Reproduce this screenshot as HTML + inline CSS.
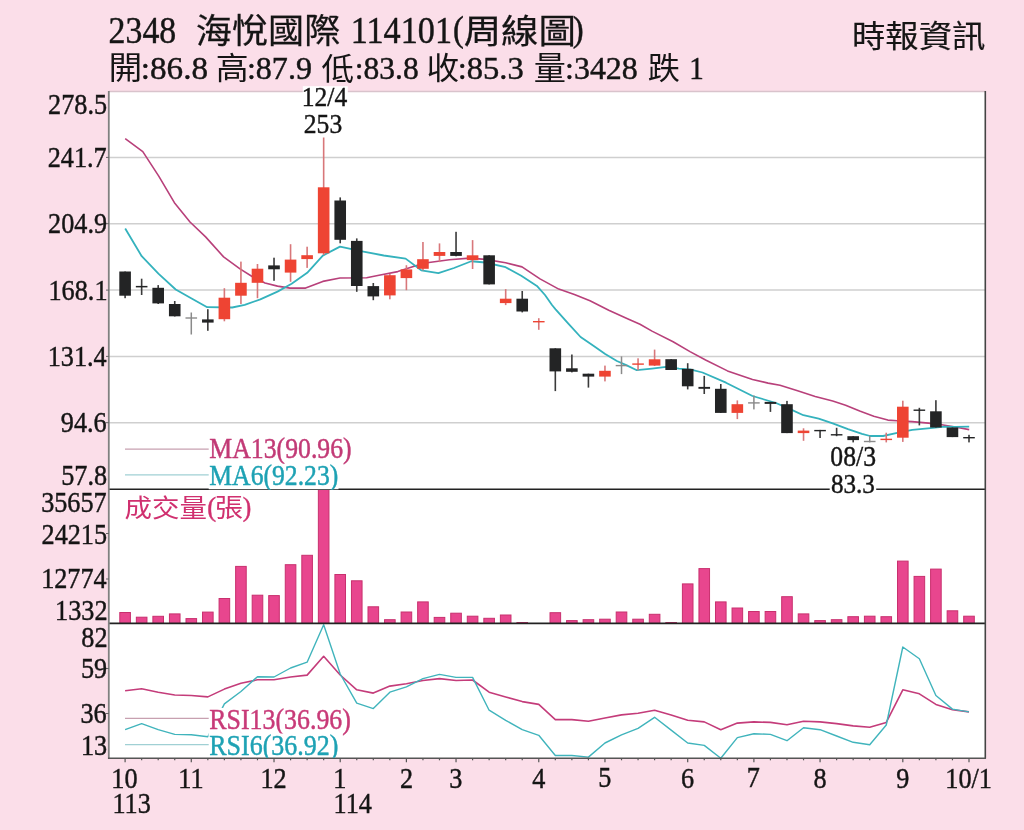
<!DOCTYPE html>
<html><head><meta charset="utf-8"><style>html,body{margin:0;padding:0;background:#fbdee9;}svg{display:block}</style></head>
<body><svg width="1024" height="830" viewBox="0 0 1024 830">
<defs><clipPath id="c1"><rect x="100" y="400" width="300" height="89.8"/></clipPath><clipPath id="c2"><rect x="100" y="650" width="300" height="107.8"/></clipPath></defs>
<rect x="0" y="0" width="1024" height="830" fill="#fbdee9"/>
<rect x="109" y="91" width="876.5" height="667.5" fill="#fff"/>
<line x1="109" y1="157.4" x2="985.5" y2="157.4" stroke="#cfcfcf" stroke-width="1.5"/>
<line x1="109" y1="223.7" x2="985.5" y2="223.7" stroke="#cfcfcf" stroke-width="1.5"/>
<line x1="109" y1="290.1" x2="985.5" y2="290.1" stroke="#cfcfcf" stroke-width="1.5"/>
<line x1="109" y1="356.4" x2="985.5" y2="356.4" stroke="#cfcfcf" stroke-width="1.5"/>
<line x1="109" y1="422.7" x2="985.5" y2="422.7" stroke="#cfcfcf" stroke-width="1.5"/>
<polyline fill="none" stroke="#b8407a" stroke-width="1.6" stroke-linejoin="round" points="125.2,138.6 142.8,151.6 158.75,176.1 174.4,202.7 190,222 205.6,236.9 223.6,256.9 240,268.9 252.5,276.7 265,283 277.5,286.1 290,288.1 305.6,288.1 322.8,281.4 340,278 366.6,277.8 379,275.3 397.8,271.6 413.4,266.4 429,262.5 449.4,259.7 469.7,258.1 485.3,259.4 505.6,262.8 522,266.9 540,278.9 558.75,289.1 574.4,294.5 590,300.8 608.75,310.2 627.5,318.75 640,324.2 652,331.1 673.1,341.7 690,351.6 705.6,360 727.5,370.9 752.5,379.5 768.1,383.1 780,385.3 797.6,390.8 815.2,396.4 832.7,401.1 845.6,405.2 859.7,411.1 873.75,416.3 887.8,420.1 897.2,420.8 912.2,421.6 928.3,423.1 940.2,424.5 955.2,427 969.2,429.6"/>
<polyline fill="none" stroke="#34b2bd" stroke-width="1.8" stroke-linejoin="round" points="125.2,228.5 141.7,256.2 158.4,273.6 175.7,289.5 191.6,298.5 207.2,307.2 232.2,307.5 244.7,304.8 260.3,299.4 277.5,291.6 291.6,283.75 307.2,272.8 322.8,255.6 340,246.6 363.4,251.6 383.75,255.5 405.6,258.6 421.25,270.3 438.4,273.1 454,268 471.25,261.25 485.3,262.5 505.6,267.2 521.25,275.8 536.9,285.9 545,295 552,305 555.6,309.3 568.1,323.4 580.6,337 593.4,345.8 605.2,354 616.9,361 626.25,365.1 636.8,370.2 652,368.6 666.1,366.9 679,368.6 690,369.3 702.5,372.5 726,382.7 752.5,396 776,403 791.7,409.9 803.4,415.2 818.7,418.7 832.7,423.4 848,429.2 862,433.9 870.2,436 883.1,436 896.1,433.1 912.2,429.9 930.5,428.1 944.5,426.7 955.2,426.9 969.2,426.7"/>
<rect x="124.3" y="271.5" width="1.6" height="26.7" fill="#3a3a3a"/>
<rect x="119.3" y="271.5" width="11.6" height="24.2" fill="#232425"/>
<rect x="140.85" y="278.7" width="1.6" height="16.3" fill="#3a3a3a"/>
<rect x="135.85" y="285.9" width="11.6" height="1.5" fill="#232425"/>
<rect x="157.39" y="285.1" width="1.6" height="18.9" fill="#3a3a3a"/>
<rect x="152.39" y="287.8" width="11.6" height="15.6" fill="#232425"/>
<rect x="173.94" y="301" width="1.6" height="15.5" fill="#3a3a3a"/>
<rect x="168.94" y="304" width="11.6" height="12.3" fill="#232425"/>
<rect x="190.54" y="312.5" width="1.5" height="22" fill="#8a8a8a"/>
<rect x="185.49" y="317.3" width="11.6" height="1.4" fill="#8a8a8a"/>
<rect x="207.03" y="309.2" width="1.6" height="21.6" fill="#3a3a3a"/>
<rect x="202.03" y="319.4" width="11.6" height="3.2" fill="#232425"/>
<rect x="223.58" y="288.2" width="1.6" height="33.1" fill="#d8777a"/>
<rect x="218.58" y="297.7" width="11.6" height="21.5" fill="#ee4433"/>
<rect x="240.13" y="261.6" width="1.6" height="42.4" fill="#d8777a"/>
<rect x="235.13" y="282.8" width="11.6" height="12.9" fill="#ee4433"/>
<rect x="256.68" y="264" width="1.6" height="34.2" fill="#d8777a"/>
<rect x="251.68" y="268.7" width="11.6" height="14.1" fill="#ee4433"/>
<rect x="273.22" y="257.7" width="1.6" height="23.1" fill="#3a3a3a"/>
<rect x="268.22" y="265.4" width="11.6" height="3.9" fill="#232425"/>
<rect x="289.77" y="244.2" width="1.6" height="37.6" fill="#d8777a"/>
<rect x="284.77" y="259.6" width="11.6" height="13" fill="#ee4433"/>
<rect x="306.32" y="246.7" width="1.6" height="21.2" fill="#d8777a"/>
<rect x="301.32" y="255.2" width="11.6" height="3.9" fill="#ee4433"/>
<rect x="322.86" y="137.5" width="1.6" height="117.5" fill="#d8777a"/>
<rect x="317.86" y="187.3" width="11.6" height="66" fill="#ee4433"/>
<rect x="339.41" y="197.4" width="1.6" height="45.9" fill="#3a3a3a"/>
<rect x="334.41" y="200.5" width="11.6" height="39.3" fill="#232425"/>
<rect x="355.96" y="238.4" width="1.6" height="53.4" fill="#3a3a3a"/>
<rect x="350.96" y="240.9" width="11.6" height="45.1" fill="#232425"/>
<rect x="372.5" y="283" width="1.6" height="17.2" fill="#3a3a3a"/>
<rect x="367.5" y="286.1" width="11.6" height="10.3" fill="#232425"/>
<rect x="389.05" y="274" width="1.6" height="25.3" fill="#d8777a"/>
<rect x="384.05" y="275.2" width="11.6" height="20.2" fill="#ee4433"/>
<rect x="405.6" y="265.2" width="1.6" height="25" fill="#d8777a"/>
<rect x="400.6" y="269.4" width="11.6" height="8.7" fill="#ee4433"/>
<rect x="422.15" y="242" width="1.6" height="28.4" fill="#d8777a"/>
<rect x="417.15" y="259.2" width="11.6" height="9.6" fill="#ee4433"/>
<rect x="438.69" y="243.4" width="1.6" height="18.7" fill="#d8777a"/>
<rect x="433.69" y="252" width="11.6" height="3.9" fill="#ee4433"/>
<rect x="455.24" y="231.8" width="1.6" height="24.5" fill="#3a3a3a"/>
<rect x="450.24" y="252" width="11.6" height="3.9" fill="#232425"/>
<rect x="471.79" y="240.1" width="1.6" height="28.9" fill="#d8777a"/>
<rect x="466.79" y="255.3" width="11.6" height="4.8" fill="#ee4433"/>
<rect x="488.33" y="255.3" width="1.6" height="29.1" fill="#3a3a3a"/>
<rect x="483.33" y="255.3" width="11.6" height="29.1" fill="#232425"/>
<rect x="504.88" y="289.1" width="1.6" height="16" fill="#d8777a"/>
<rect x="499.88" y="298.7" width="11.6" height="4.4" fill="#ee4433"/>
<rect x="521.43" y="291" width="1.6" height="21.4" fill="#3a3a3a"/>
<rect x="516.43" y="298.7" width="11.6" height="12.8" fill="#232425"/>
<rect x="537.98" y="318.2" width="1.6" height="11.6" fill="#d8777a"/>
<rect x="532.98" y="321" width="11.6" height="1.4" fill="#ee4433"/>
<rect x="554.52" y="348.3" width="1.6" height="42.8" fill="#3a3a3a"/>
<rect x="549.52" y="348.3" width="11.6" height="23.1" fill="#232425"/>
<rect x="571.07" y="354.5" width="1.6" height="17.9" fill="#3a3a3a"/>
<rect x="566.07" y="368.3" width="11.6" height="3.5" fill="#232425"/>
<rect x="587.62" y="373.7" width="1.6" height="13.9" fill="#3a3a3a"/>
<rect x="582.62" y="373.7" width="11.6" height="2.9" fill="#232425"/>
<rect x="604.16" y="365.6" width="1.6" height="15.8" fill="#d8777a"/>
<rect x="599.16" y="370.8" width="11.6" height="5.8" fill="#ee4433"/>
<rect x="620.76" y="356.4" width="1.5" height="17.7" fill="#8a8a8a"/>
<rect x="615.71" y="364.9" width="11.6" height="1.4" fill="#8a8a8a"/>
<rect x="637.26" y="358.3" width="1.6" height="12" fill="#d8777a"/>
<rect x="632.26" y="363.4" width="11.6" height="1.4" fill="#ee4433"/>
<rect x="653.8" y="349.6" width="1.6" height="16.4" fill="#d8777a"/>
<rect x="648.8" y="359.3" width="11.6" height="6.3" fill="#ee4433"/>
<rect x="670.35" y="359.2" width="1.6" height="10.8" fill="#3a3a3a"/>
<rect x="665.35" y="359.2" width="11.6" height="10.8" fill="#232425"/>
<rect x="686.9" y="363.2" width="1.6" height="26.2" fill="#3a3a3a"/>
<rect x="681.9" y="368.9" width="11.6" height="17.4" fill="#232425"/>
<rect x="703.45" y="375.9" width="1.6" height="18.1" fill="#3a3a3a"/>
<rect x="698.45" y="386.9" width="11.6" height="1.9" fill="#232425"/>
<rect x="719.99" y="384" width="1.6" height="28.9" fill="#3a3a3a"/>
<rect x="714.99" y="388.8" width="11.6" height="24.1" fill="#232425"/>
<rect x="736.54" y="400.4" width="1.6" height="18.7" fill="#d8777a"/>
<rect x="731.54" y="404.2" width="11.6" height="8.7" fill="#ee4433"/>
<rect x="753.14" y="395.5" width="1.5" height="13.9" fill="#8a8a8a"/>
<rect x="748.09" y="402.2" width="11.6" height="1.4" fill="#8a8a8a"/>
<rect x="769.63" y="401.9" width="1.6" height="10" fill="#3a3a3a"/>
<rect x="764.63" y="401.9" width="11.6" height="2" fill="#232425"/>
<rect x="786.18" y="400.9" width="1.6" height="32.2" fill="#3a3a3a"/>
<rect x="781.18" y="404.2" width="11.6" height="28.9" fill="#232425"/>
<rect x="802.73" y="428.3" width="1.6" height="12.5" fill="#d8777a"/>
<rect x="797.73" y="430.6" width="11.6" height="2.5" fill="#ee4433"/>
<rect x="819.27" y="429.9" width="1.6" height="8.1" fill="#3a3a3a"/>
<rect x="814.27" y="429.9" width="11.6" height="1.4" fill="#232425"/>
<rect x="835.82" y="427.8" width="1.6" height="8.4" fill="#3a3a3a"/>
<rect x="830.82" y="434.1" width="11.6" height="1.4" fill="#232425"/>
<rect x="852.37" y="436.2" width="1.6" height="6.2" fill="#3a3a3a"/>
<rect x="847.37" y="436.2" width="11.6" height="3.9" fill="#232425"/>
<rect x="868.97" y="435.9" width="1.5" height="6.5" fill="#8a8a8a"/>
<rect x="863.92" y="440.8" width="11.6" height="1.4" fill="#8a8a8a"/>
<rect x="885.46" y="432.7" width="1.6" height="9.7" fill="#d8777a"/>
<rect x="880.46" y="438.7" width="11.6" height="1.4" fill="#ee4433"/>
<rect x="902.01" y="400.7" width="1.6" height="41.2" fill="#d8777a"/>
<rect x="897.01" y="406.7" width="11.6" height="31" fill="#ee4433"/>
<rect x="918.56" y="407.8" width="1.6" height="17.6" fill="#3a3a3a"/>
<rect x="913.56" y="409.5" width="11.6" height="1.4" fill="#232425"/>
<rect x="935.1" y="400.2" width="1.6" height="27.3" fill="#3a3a3a"/>
<rect x="930.1" y="411.3" width="11.6" height="16.2" fill="#232425"/>
<rect x="951.65" y="427.5" width="1.6" height="9.6" fill="#3a3a3a"/>
<rect x="946.65" y="427.5" width="11.6" height="9.6" fill="#232425"/>
<rect x="968.2" y="434.8" width="1.6" height="7.6" fill="#3a3a3a"/>
<rect x="963.2" y="437" width="11.6" height="1.4" fill="#232425"/>
<rect x="119.8" y="612.5" width="10.6" height="11" fill="#e8468e" stroke="#c8306e" stroke-width="1"/>
<rect x="136.35" y="617.2" width="10.6" height="6.3" fill="#e8468e" stroke="#c8306e" stroke-width="1"/>
<rect x="152.89" y="616.3" width="10.6" height="7.2" fill="#e8468e" stroke="#c8306e" stroke-width="1"/>
<rect x="169.44" y="613.9" width="10.6" height="9.6" fill="#e8468e" stroke="#c8306e" stroke-width="1"/>
<rect x="185.99" y="618.6" width="10.6" height="4.9" fill="#e8468e" stroke="#c8306e" stroke-width="1"/>
<rect x="202.53" y="612.1" width="10.6" height="11.4" fill="#e8468e" stroke="#c8306e" stroke-width="1"/>
<rect x="219.08" y="598.5" width="10.6" height="25" fill="#e8468e" stroke="#c8306e" stroke-width="1"/>
<rect x="235.63" y="566.4" width="10.6" height="57.1" fill="#e8468e" stroke="#c8306e" stroke-width="1"/>
<rect x="252.18" y="595.2" width="10.6" height="28.3" fill="#e8468e" stroke="#c8306e" stroke-width="1"/>
<rect x="268.72" y="595.6" width="10.6" height="27.9" fill="#e8468e" stroke="#c8306e" stroke-width="1"/>
<rect x="285.27" y="564.7" width="10.6" height="58.8" fill="#e8468e" stroke="#c8306e" stroke-width="1"/>
<rect x="301.82" y="555.3" width="10.6" height="68.2" fill="#e8468e" stroke="#c8306e" stroke-width="1"/>
<rect x="318.36" y="488.9" width="10.6" height="134.6" fill="#e8468e" stroke="#c8306e" stroke-width="1"/>
<rect x="334.91" y="574.5" width="10.6" height="49" fill="#e8468e" stroke="#c8306e" stroke-width="1"/>
<rect x="351.46" y="580.8" width="10.6" height="42.7" fill="#e8468e" stroke="#c8306e" stroke-width="1"/>
<rect x="368" y="606.8" width="10.6" height="16.7" fill="#e8468e" stroke="#c8306e" stroke-width="1"/>
<rect x="384.55" y="619.7" width="10.6" height="3.8" fill="#e8468e" stroke="#c8306e" stroke-width="1"/>
<rect x="401.1" y="612" width="10.6" height="11.5" fill="#e8468e" stroke="#c8306e" stroke-width="1"/>
<rect x="417.65" y="601.9" width="10.6" height="21.6" fill="#e8468e" stroke="#c8306e" stroke-width="1"/>
<rect x="434.19" y="617.4" width="10.6" height="6.1" fill="#e8468e" stroke="#c8306e" stroke-width="1"/>
<rect x="450.74" y="613.2" width="10.6" height="10.3" fill="#e8468e" stroke="#c8306e" stroke-width="1"/>
<rect x="467.29" y="616.2" width="10.6" height="7.3" fill="#e8468e" stroke="#c8306e" stroke-width="1"/>
<rect x="483.83" y="618.3" width="10.6" height="5.2" fill="#e8468e" stroke="#c8306e" stroke-width="1"/>
<rect x="500.38" y="615" width="10.6" height="8.5" fill="#e8468e" stroke="#c8306e" stroke-width="1"/>
<rect x="516.93" y="622.5" width="10.6" height="1" fill="#e8468e" stroke="#c8306e" stroke-width="1"/>
<rect x="550.02" y="612.7" width="10.6" height="10.8" fill="#e8468e" stroke="#c8306e" stroke-width="1"/>
<rect x="566.57" y="620.6" width="10.6" height="2.9" fill="#e8468e" stroke="#c8306e" stroke-width="1"/>
<rect x="583.12" y="619.7" width="10.6" height="3.8" fill="#e8468e" stroke="#c8306e" stroke-width="1"/>
<rect x="599.66" y="619.2" width="10.6" height="4.3" fill="#e8468e" stroke="#c8306e" stroke-width="1"/>
<rect x="616.21" y="612" width="10.6" height="11.5" fill="#e8468e" stroke="#c8306e" stroke-width="1"/>
<rect x="632.76" y="619.2" width="10.6" height="4.3" fill="#e8468e" stroke="#c8306e" stroke-width="1"/>
<rect x="649.3" y="614.3" width="10.6" height="9.2" fill="#e8468e" stroke="#c8306e" stroke-width="1"/>
<rect x="665.85" y="622.5" width="10.6" height="1" fill="#e8468e" stroke="#c8306e" stroke-width="1"/>
<rect x="682.4" y="583.9" width="10.6" height="39.6" fill="#e8468e" stroke="#c8306e" stroke-width="1"/>
<rect x="698.95" y="568.6" width="10.6" height="54.9" fill="#e8468e" stroke="#c8306e" stroke-width="1"/>
<rect x="715.49" y="601.9" width="10.6" height="21.6" fill="#e8468e" stroke="#c8306e" stroke-width="1"/>
<rect x="732.04" y="608" width="10.6" height="15.5" fill="#e8468e" stroke="#c8306e" stroke-width="1"/>
<rect x="748.59" y="611.5" width="10.6" height="12" fill="#e8468e" stroke="#c8306e" stroke-width="1"/>
<rect x="765.13" y="611.5" width="10.6" height="12" fill="#e8468e" stroke="#c8306e" stroke-width="1"/>
<rect x="781.68" y="596.7" width="10.6" height="26.8" fill="#e8468e" stroke="#c8306e" stroke-width="1"/>
<rect x="798.23" y="613.9" width="10.6" height="9.6" fill="#e8468e" stroke="#c8306e" stroke-width="1"/>
<rect x="814.77" y="620.6" width="10.6" height="2.9" fill="#e8468e" stroke="#c8306e" stroke-width="1"/>
<rect x="831.32" y="619.7" width="10.6" height="3.8" fill="#e8468e" stroke="#c8306e" stroke-width="1"/>
<rect x="847.87" y="616.7" width="10.6" height="6.8" fill="#e8468e" stroke="#c8306e" stroke-width="1"/>
<rect x="864.42" y="616.2" width="10.6" height="7.3" fill="#e8468e" stroke="#c8306e" stroke-width="1"/>
<rect x="880.96" y="616.7" width="10.6" height="6.8" fill="#e8468e" stroke="#c8306e" stroke-width="1"/>
<rect x="897.51" y="561.1" width="10.6" height="62.4" fill="#e8468e" stroke="#c8306e" stroke-width="1"/>
<rect x="914.06" y="576.4" width="10.6" height="47.1" fill="#e8468e" stroke="#c8306e" stroke-width="1"/>
<rect x="930.6" y="569.1" width="10.6" height="54.4" fill="#e8468e" stroke="#c8306e" stroke-width="1"/>
<rect x="947.15" y="610.8" width="10.6" height="12.7" fill="#e8468e" stroke="#c8306e" stroke-width="1"/>
<rect x="963.7" y="616.2" width="10.6" height="7.3" fill="#e8468e" stroke="#c8306e" stroke-width="1"/>
<polyline fill="none" stroke="#c43c7a" stroke-width="1.6" stroke-linejoin="round" points="125.1,690.8 141.65,688.7 158.19,692.2 174.74,695 191.29,695.5 207.83,696.9 224.38,689.1 240.93,683.3 257.48,679.8 274.02,679.8 290.57,677 307.12,675.1 323.66,656.3 340.21,675 356.76,689.8 373.31,693.1 389.85,686.1 406.4,683.7 422.95,680.5 439.49,678.6 456.04,680.5 472.59,680 489.13,692.2 505.68,696.9 522.23,701.6 538.77,704.4 555.32,719.6 571.87,719.6 588.42,721.2 604.96,718 621.51,714.9 638.06,713.3 654.6,710.2 671.15,714.9 687.7,720.3 704.25,721.9 720.79,729.7 737.34,723.1 753.89,721.9 770.43,722.4 786.98,724.8 803.53,721.2 820.07,721.9 836.62,723.6 853.17,725.9 869.72,727.3 886.26,722.4 902.81,689.8 919.36,693.8 935.9,704.4 952.45,709.8 969,711.9"/>
<polyline fill="none" stroke="#40b4bc" stroke-width="1.4" stroke-linejoin="round" points="125.1,729.7 141.65,723.6 158.19,729.7 174.74,734.4 191.29,734.8 207.83,736.7 224.38,703.9 240.93,691.5 257.48,676.7 274.02,677 290.57,668 307.12,662.2 323.66,624.7 340.21,674 356.76,703.2 373.31,708.6 389.85,692.2 406.4,686.8 422.95,678.6 439.49,674.4 456.04,677.4 472.59,677.4 489.13,710.2 505.68,720.3 522.23,729.7 538.77,735.3 555.32,755.5 571.87,755.5 588.42,757.1 604.96,743 621.51,734.8 638.06,728.3 654.6,717.3 671.15,730.1 687.7,743 704.25,745.4 720.79,758.3 737.34,737.6 753.89,733.7 770.43,734.4 786.98,740.7 803.53,727.8 820.07,729.7 836.62,736 853.17,742.3 869.72,744.7 886.26,725 902.81,647 919.36,658.7 935.9,695.5 952.45,709.1 969,711.9"/>
<line x1="109" y1="489.2" x2="985.5" y2="489.2" stroke="#222" stroke-width="1.6"/>
<line x1="109" y1="623.4" x2="985.5" y2="623.4" stroke="#222" stroke-width="1.6"/>
<line x1="109" y1="91.5" x2="985.5" y2="91.5" stroke="#d9c3cc" stroke-width="1.5"/>
<line x1="985.3" y1="91" x2="985.3" y2="758.5" stroke="#444" stroke-width="1.6"/>
<line x1="108.8" y1="91" x2="108.8" y2="759" stroke="#808080" stroke-width="1.8"/>
<line x1="108" y1="758.3" x2="986" y2="758.3" stroke="#555" stroke-width="1.6"/>
<line x1="125.1" y1="758.3" x2="125.1" y2="762.3" stroke="#555" stroke-width="1.2"/>
<line x1="141.65" y1="758.3" x2="141.65" y2="760.3" stroke="#555" stroke-width="1.2"/>
<line x1="158.19" y1="758.3" x2="158.19" y2="760.3" stroke="#555" stroke-width="1.2"/>
<line x1="174.74" y1="758.3" x2="174.74" y2="760.3" stroke="#555" stroke-width="1.2"/>
<line x1="191.29" y1="758.3" x2="191.29" y2="762.3" stroke="#555" stroke-width="1.2"/>
<line x1="207.83" y1="758.3" x2="207.83" y2="760.3" stroke="#555" stroke-width="1.2"/>
<line x1="224.38" y1="758.3" x2="224.38" y2="760.3" stroke="#555" stroke-width="1.2"/>
<line x1="240.93" y1="758.3" x2="240.93" y2="760.3" stroke="#555" stroke-width="1.2"/>
<line x1="257.48" y1="758.3" x2="257.48" y2="760.3" stroke="#555" stroke-width="1.2"/>
<line x1="274.02" y1="758.3" x2="274.02" y2="762.3" stroke="#555" stroke-width="1.2"/>
<line x1="290.57" y1="758.3" x2="290.57" y2="760.3" stroke="#555" stroke-width="1.2"/>
<line x1="307.12" y1="758.3" x2="307.12" y2="760.3" stroke="#555" stroke-width="1.2"/>
<line x1="323.66" y1="758.3" x2="323.66" y2="760.3" stroke="#555" stroke-width="1.2"/>
<line x1="340.21" y1="758.3" x2="340.21" y2="762.3" stroke="#555" stroke-width="1.2"/>
<line x1="356.76" y1="758.3" x2="356.76" y2="760.3" stroke="#555" stroke-width="1.2"/>
<line x1="373.31" y1="758.3" x2="373.31" y2="760.3" stroke="#555" stroke-width="1.2"/>
<line x1="389.85" y1="758.3" x2="389.85" y2="760.3" stroke="#555" stroke-width="1.2"/>
<line x1="406.4" y1="758.3" x2="406.4" y2="762.3" stroke="#555" stroke-width="1.2"/>
<line x1="422.95" y1="758.3" x2="422.95" y2="760.3" stroke="#555" stroke-width="1.2"/>
<line x1="439.49" y1="758.3" x2="439.49" y2="760.3" stroke="#555" stroke-width="1.2"/>
<line x1="456.04" y1="758.3" x2="456.04" y2="762.3" stroke="#555" stroke-width="1.2"/>
<line x1="472.59" y1="758.3" x2="472.59" y2="760.3" stroke="#555" stroke-width="1.2"/>
<line x1="489.13" y1="758.3" x2="489.13" y2="760.3" stroke="#555" stroke-width="1.2"/>
<line x1="505.68" y1="758.3" x2="505.68" y2="760.3" stroke="#555" stroke-width="1.2"/>
<line x1="522.23" y1="758.3" x2="522.23" y2="760.3" stroke="#555" stroke-width="1.2"/>
<line x1="538.77" y1="758.3" x2="538.77" y2="762.3" stroke="#555" stroke-width="1.2"/>
<line x1="555.32" y1="758.3" x2="555.32" y2="760.3" stroke="#555" stroke-width="1.2"/>
<line x1="571.87" y1="758.3" x2="571.87" y2="760.3" stroke="#555" stroke-width="1.2"/>
<line x1="588.42" y1="758.3" x2="588.42" y2="760.3" stroke="#555" stroke-width="1.2"/>
<line x1="604.96" y1="758.3" x2="604.96" y2="762.3" stroke="#555" stroke-width="1.2"/>
<line x1="621.51" y1="758.3" x2="621.51" y2="760.3" stroke="#555" stroke-width="1.2"/>
<line x1="638.06" y1="758.3" x2="638.06" y2="760.3" stroke="#555" stroke-width="1.2"/>
<line x1="654.6" y1="758.3" x2="654.6" y2="760.3" stroke="#555" stroke-width="1.2"/>
<line x1="671.15" y1="758.3" x2="671.15" y2="760.3" stroke="#555" stroke-width="1.2"/>
<line x1="687.7" y1="758.3" x2="687.7" y2="762.3" stroke="#555" stroke-width="1.2"/>
<line x1="704.25" y1="758.3" x2="704.25" y2="760.3" stroke="#555" stroke-width="1.2"/>
<line x1="720.79" y1="758.3" x2="720.79" y2="760.3" stroke="#555" stroke-width="1.2"/>
<line x1="737.34" y1="758.3" x2="737.34" y2="760.3" stroke="#555" stroke-width="1.2"/>
<line x1="753.89" y1="758.3" x2="753.89" y2="762.3" stroke="#555" stroke-width="1.2"/>
<line x1="770.43" y1="758.3" x2="770.43" y2="760.3" stroke="#555" stroke-width="1.2"/>
<line x1="786.98" y1="758.3" x2="786.98" y2="760.3" stroke="#555" stroke-width="1.2"/>
<line x1="803.53" y1="758.3" x2="803.53" y2="760.3" stroke="#555" stroke-width="1.2"/>
<line x1="820.07" y1="758.3" x2="820.07" y2="762.3" stroke="#555" stroke-width="1.2"/>
<line x1="836.62" y1="758.3" x2="836.62" y2="760.3" stroke="#555" stroke-width="1.2"/>
<line x1="853.17" y1="758.3" x2="853.17" y2="760.3" stroke="#555" stroke-width="1.2"/>
<line x1="869.72" y1="758.3" x2="869.72" y2="760.3" stroke="#555" stroke-width="1.2"/>
<line x1="886.26" y1="758.3" x2="886.26" y2="760.3" stroke="#555" stroke-width="1.2"/>
<line x1="902.81" y1="758.3" x2="902.81" y2="762.3" stroke="#555" stroke-width="1.2"/>
<line x1="919.36" y1="758.3" x2="919.36" y2="760.3" stroke="#555" stroke-width="1.2"/>
<line x1="935.9" y1="758.3" x2="935.9" y2="760.3" stroke="#555" stroke-width="1.2"/>
<line x1="952.45" y1="758.3" x2="952.45" y2="760.3" stroke="#555" stroke-width="1.2"/>
<line x1="969" y1="758.3" x2="969" y2="762.3" stroke="#555" stroke-width="1.2"/>
<line x1="106" y1="157.4" x2="109" y2="157.4" stroke="#666" stroke-width="1"/>
<line x1="106" y1="223.7" x2="109" y2="223.7" stroke="#666" stroke-width="1"/>
<line x1="106" y1="290.1" x2="109" y2="290.1" stroke="#666" stroke-width="1"/>
<line x1="106" y1="356.4" x2="109" y2="356.4" stroke="#666" stroke-width="1"/>
<line x1="106" y1="422.7" x2="109" y2="422.7" stroke="#666" stroke-width="1"/>
<line x1="106" y1="533.5" x2="109" y2="533.5" stroke="#666" stroke-width="1"/>
<line x1="106" y1="579" x2="109" y2="579" stroke="#666" stroke-width="1"/>
<line x1="106" y1="668.5" x2="109" y2="668.5" stroke="#666" stroke-width="1"/>
<line x1="106" y1="713.5" x2="109" y2="713.5" stroke="#666" stroke-width="1"/>
<g><text transform="translate(108.54,42.9) scale(0.8851,1)" font-family="'Liberation Serif', 'Noto Sans CJK TC', serif" font-size="38.25" fill="#151515" stroke="#151515" stroke-width="0.45">2348</text></g>
<g><text transform="translate(195.87,43.1) scale(1.0580,1)" font-family="'Liberation Sans', 'Noto Sans CJK TC', sans-serif" font-size="34.13" fill="#151515" stroke="#151515" stroke-width="0.25">海悅國際</text></g>
<g><text transform="translate(350.63,42.9) scale(0.8910,1)" font-family="'Liberation Serif', 'Noto Sans CJK TC', serif" font-size="38.4" fill="#151515" stroke="#151515" stroke-width="0.45">114101</text></g>
<g><text transform="translate(452.89,40.69) scale(0.9178,1)" font-family="'Liberation Serif', 'Noto Sans CJK TC', serif" font-size="35.25" fill="#151515" stroke="#151515" stroke-width="0.45">(</text></g>
<g><text transform="translate(463.63,43.05) scale(1.1527,1)" font-family="'Liberation Sans', 'Noto Sans CJK TC', sans-serif" font-size="32.53" fill="#151515" stroke="#151515" stroke-width="0.25">周線圖</text></g>
<g><text transform="translate(572.78,40.69) scale(0.9290,1)" font-family="'Liberation Serif', 'Noto Sans CJK TC', serif" font-size="35.25" fill="#151515" stroke="#151515" stroke-width="0.45">)</text></g>
<g><text transform="translate(851.91,46.57) scale(1.1056,1)" font-family="'Liberation Sans', 'Noto Sans CJK TC', sans-serif" font-size="30.22" fill="#151515" stroke="#151515" stroke-width="0.2">時報資訊</text></g>
<g><text transform="translate(108.46,78.76) scale(1.0779,1)" font-family="'Liberation Sans', 'Noto Sans CJK TC', sans-serif" font-size="31.34" fill="#151515" stroke="#151515" stroke-width="0.0">開</text></g>
<g><text transform="translate(140.81,79.11) scale(1.0503,1)" font-family="'Liberation Serif', 'Noto Sans CJK TC', serif" font-size="31.56" fill="#151515" stroke="#151515" stroke-width="0.45">:86.8</text></g>
<g><text transform="translate(215.66,78.86) scale(1.0860,1)" font-family="'Liberation Sans', 'Noto Sans CJK TC', sans-serif" font-size="30.29" fill="#151515" stroke="#151515" stroke-width="0.0">高</text></g>
<g><text transform="translate(246.89,79.11) scale(1.0173,1)" font-family="'Liberation Serif', 'Noto Sans CJK TC', serif" font-size="31.56" fill="#151515" stroke="#151515" stroke-width="0.45">:87.9</text></g>
<g><text transform="translate(321.59,79.87) scale(1.0476,1)" font-family="'Liberation Sans', 'Noto Sans CJK TC', sans-serif" font-size="31.15" fill="#151515" stroke="#151515" stroke-width="0.0">低</text></g>
<g><text transform="translate(354.74,79.11) scale(0.9991,1)" font-family="'Liberation Serif', 'Noto Sans CJK TC', serif" font-size="31.56" fill="#151515" stroke="#151515" stroke-width="0.45">:83.8</text></g>
<g><text transform="translate(426.47,78.86) scale(1.0778,1)" font-family="'Liberation Sans', 'Noto Sans CJK TC', sans-serif" font-size="30.29" fill="#151515" stroke="#151515" stroke-width="0.0">收</text></g>
<g><text transform="translate(457.75,79.11) scale(1.0321,1)" font-family="'Liberation Serif', 'Noto Sans CJK TC', serif" font-size="31.56" fill="#151515" stroke="#151515" stroke-width="0.45">:85.3</text></g>
<g><text transform="translate(533.79,79.67) scale(0.9926,1)" font-family="'Liberation Sans', 'Noto Sans CJK TC', sans-serif" font-size="32.46" fill="#151515" stroke="#151515" stroke-width="0.0">量</text></g>
<g><text transform="translate(565,79.11) scale(1.0140,1)" font-family="'Liberation Serif', 'Noto Sans CJK TC', serif" font-size="31.56" fill="#151515" stroke="#151515" stroke-width="0.45">:3428</text></g>
<g><text transform="translate(647.79,78.86) scale(1.0634,1)" font-family="'Liberation Sans', 'Noto Sans CJK TC', sans-serif" font-size="30.29" fill="#151515" stroke="#151515" stroke-width="0.0">跌</text></g>
<g><text transform="translate(689.33,79.3) scale(0.9126,1)" font-family="'Liberation Serif', 'Noto Sans CJK TC', serif" font-size="31.85" fill="#151515" stroke="#151515" stroke-width="0.45">1</text></g>
<g><text transform="translate(48.09,113.78) scale(0.8800,1)" font-family="'Liberation Serif', 'Noto Sans CJK TC', serif" font-size="29.81" fill="#151515" stroke="#151515" stroke-width="0.45">278.5</text></g>
<g><text transform="translate(47.68,167.28) scale(0.8800,1)" font-family="'Liberation Serif', 'Noto Sans CJK TC', serif" font-size="29.81" fill="#151515" stroke="#151515" stroke-width="0.45">241.7</text></g>
<g><text transform="translate(48.09,233.28) scale(0.8800,1)" font-family="'Liberation Serif', 'Noto Sans CJK TC', serif" font-size="29.81" fill="#151515" stroke="#151515" stroke-width="0.45">204.9</text></g>
<g><text transform="translate(48.5,300.28) scale(0.8800,1)" font-family="'Liberation Serif', 'Noto Sans CJK TC', serif" font-size="29.81" fill="#151515" stroke="#151515" stroke-width="0.45">168.1</text></g>
<g><text transform="translate(47.68,366.38) scale(0.8800,1)" font-family="'Liberation Serif', 'Noto Sans CJK TC', serif" font-size="29.81" fill="#151515" stroke="#151515" stroke-width="0.45">131.4</text></g>
<g><text transform="translate(60.8,431.98) scale(0.8800,1)" font-family="'Liberation Serif', 'Noto Sans CJK TC', serif" font-size="29.81" fill="#151515" stroke="#151515" stroke-width="0.45">94.6</text></g>
<g><text transform="translate(61.21,485.08) scale(0.8800,1)" font-family="'Liberation Serif', 'Noto Sans CJK TC', serif" font-size="29.81" fill="#151515" stroke="#151515" stroke-width="0.45">57.8</text></g>
<g><text transform="translate(41.13,511.98) scale(0.8800,1)" font-family="'Liberation Serif', 'Noto Sans CJK TC', serif" font-size="29.81" fill="#151515" stroke="#151515" stroke-width="0.45">35657</text></g>
<g><text transform="translate(41.54,543.58) scale(0.8800,1)" font-family="'Liberation Serif', 'Noto Sans CJK TC', serif" font-size="29.81" fill="#151515" stroke="#151515" stroke-width="0.45">24215</text></g>
<g><text transform="translate(41.13,588.31) scale(0.8800,1)" font-family="'Liberation Serif', 'Noto Sans CJK TC', serif" font-size="29.81" fill="#151515" stroke="#151515" stroke-width="0.45">12774</text></g>
<g><text transform="translate(55.06,619.98) scale(0.8800,1)" font-family="'Liberation Serif', 'Noto Sans CJK TC', serif" font-size="29.81" fill="#151515" stroke="#151515" stroke-width="0.45">1332</text></g>
<g><text transform="translate(81.3,646.98) scale(0.8800,1)" font-family="'Liberation Serif', 'Noto Sans CJK TC', serif" font-size="29.81" fill="#151515" stroke="#151515" stroke-width="0.45">82</text></g>
<g><text transform="translate(80.89,678.28) scale(0.8800,1)" font-family="'Liberation Serif', 'Noto Sans CJK TC', serif" font-size="29.81" fill="#151515" stroke="#151515" stroke-width="0.45">59</text></g>
<g><text transform="translate(80.48,723.08) scale(0.8800,1)" font-family="'Liberation Serif', 'Noto Sans CJK TC', serif" font-size="29.81" fill="#151515" stroke="#151515" stroke-width="0.45">36</text></g>
<g><text transform="translate(80.89,754.78) scale(0.8800,1)" font-family="'Liberation Serif', 'Noto Sans CJK TC', serif" font-size="29.81" fill="#151515" stroke="#151515" stroke-width="0.45">13</text></g>
<g><text transform="translate(111.37,787.83) scale(0.8800,1)" font-family="'Liberation Serif', 'Noto Sans CJK TC', serif" font-size="29.81" fill="#151515" stroke="#151515" stroke-width="0.45">10</text></g>
<g><text transform="translate(178.25,787.83) scale(0.8800,1)" font-family="'Liberation Serif', 'Noto Sans CJK TC', serif" font-size="29.81" fill="#151515" stroke="#151515" stroke-width="0.45">11</text></g>
<g><text transform="translate(260.5,787.83) scale(0.8800,1)" font-family="'Liberation Serif', 'Noto Sans CJK TC', serif" font-size="29.81" fill="#151515" stroke="#151515" stroke-width="0.45">12</text></g>
<g><text transform="translate(333.24,787.83) scale(0.8800,1)" font-family="'Liberation Serif', 'Noto Sans CJK TC', serif" font-size="29.81" fill="#151515" stroke="#151515" stroke-width="0.45">1</text></g>
<g><text transform="translate(400.05,787.83) scale(0.8800,1)" font-family="'Liberation Serif', 'Noto Sans CJK TC', serif" font-size="29.81" fill="#151515" stroke="#151515" stroke-width="0.45">2</text></g>
<g><text transform="translate(449.28,787.83) scale(0.8800,1)" font-family="'Liberation Serif', 'Noto Sans CJK TC', serif" font-size="29.81" fill="#151515" stroke="#151515" stroke-width="0.45">3</text></g>
<g><text transform="translate(532.22,787.83) scale(0.8800,1)" font-family="'Liberation Serif', 'Noto Sans CJK TC', serif" font-size="29.81" fill="#151515" stroke="#151515" stroke-width="0.45">4</text></g>
<g><text transform="translate(598.2,787.36) scale(0.8800,1)" font-family="'Liberation Serif', 'Noto Sans CJK TC', serif" font-size="29.81" fill="#151515" stroke="#151515" stroke-width="0.45">5</text></g>
<g><text transform="translate(680.93,787.83) scale(0.8800,1)" font-family="'Liberation Serif', 'Noto Sans CJK TC', serif" font-size="29.81" fill="#151515" stroke="#151515" stroke-width="0.45">6</text></g>
<g><text transform="translate(746.71,787.36) scale(0.8800,1)" font-family="'Liberation Serif', 'Noto Sans CJK TC', serif" font-size="29.81" fill="#151515" stroke="#151515" stroke-width="0.45">7</text></g>
<g><text transform="translate(813.52,787.83) scale(0.8800,1)" font-family="'Liberation Serif', 'Noto Sans CJK TC', serif" font-size="29.81" fill="#151515" stroke="#151515" stroke-width="0.45">8</text></g>
<g><text transform="translate(896.25,787.83) scale(0.8800,1)" font-family="'Liberation Serif', 'Noto Sans CJK TC', serif" font-size="29.81" fill="#151515" stroke="#151515" stroke-width="0.45">9</text></g>
<g><text transform="translate(112.4,813.03) scale(0.8800,1)" font-family="'Liberation Serif', 'Noto Sans CJK TC', serif" font-size="29.81" fill="#151515" stroke="#151515" stroke-width="0.45">113</text></g>
<g><text transform="translate(333.49,813.03) scale(0.8800,1)" font-family="'Liberation Serif', 'Noto Sans CJK TC', serif" font-size="29.81" fill="#151515" stroke="#151515" stroke-width="0.45">114</text></g>
<g><text transform="translate(945.27,787.83) scale(0.8800,1)" font-family="'Liberation Serif', 'Noto Sans CJK TC', serif" font-size="29.81" fill="#151515" stroke="#151515" stroke-width="0.45">10/1</text></g>
<rect x="302.8" y="86.2" width="45" height="21.5" fill="#fff"/><g><text transform="translate(301.81,106.26) scale(0.9002,1)" font-family="'Liberation Serif', 'Noto Sans CJK TC', serif" font-size="28.36" fill="#151515" stroke="#151515" stroke-width="0.45">12/4</text></g>
<rect x="303.6" y="112.6" width="38.8" height="21.4" fill="#fff"/><g><text transform="translate(303.8,132.56) scale(0.9072,1)" font-family="'Liberation Serif', 'Noto Sans CJK TC', serif" font-size="28.22" fill="#151515" stroke="#151515" stroke-width="0.45">253</text></g>
<rect x="830.1" y="445.8" width="46.1" height="21.8" fill="#fff"/><g><text transform="translate(830.3,466.15) scale(0.8927,1)" font-family="'Liberation Serif', 'Noto Sans CJK TC', serif" font-size="28.8" fill="#151515" stroke="#151515" stroke-width="0.45">08/3</text></g>
<rect x="829.7" y="472.7" width="46.5" height="21.5" fill="#fff"/><g><text transform="translate(830.91,492.76) scale(0.8879,1)" font-family="'Liberation Serif', 'Noto Sans CJK TC', serif" font-size="28.36" fill="#151515" stroke="#151515" stroke-width="0.45">83.3</text></g>
<line x1="125" y1="449.1" x2="209" y2="449.1" stroke="#c7a0b0" stroke-width="1.3"/>
<line x1="125" y1="474.9" x2="209" y2="474.9" stroke="#a0d0d4" stroke-width="1.3"/>
<rect x="208.7" y="436.56" width="143.1" height="28.27" fill="#fff"/><g><text transform="translate(209.3,457.6) scale(0.9042,1)" font-family="'Liberation Serif', 'Noto Sans CJK TC', serif" font-size="28.5" fill="#c23a76" stroke="#c23a76" stroke-width="0.45">MA13(90.96)</text></g>
<rect x="208.7" y="463.86" width="129.8" height="25.37" fill="#fff"/><g clip-path="url(#c1)"><text transform="translate(209.3,484.9) scale(0.9012,1)" font-family="'Liberation Serif', 'Noto Sans CJK TC', serif" font-size="28.5" fill="#1ea2b4" stroke="#1ea2b4" stroke-width="0.45">MA6(92.23)</text></g>
<line x1="125" y1="718.4" x2="210" y2="718.4" stroke="#c7a0b0" stroke-width="1.3"/>
<line x1="125" y1="744.7" x2="210" y2="744.7" stroke="#a0d0d4" stroke-width="1.3"/>
<rect x="208.7" y="707.96" width="142.3" height="28.27" fill="#fff"/><g><text transform="translate(209.3,729) scale(0.9082,1)" font-family="'Liberation Serif', 'Noto Sans CJK TC', serif" font-size="28.5" fill="#c83a78" stroke="#c83a78" stroke-width="0.45">RSI13(36.96)</text></g>
<rect x="208.7" y="733.56" width="129.8" height="23.27" fill="#fff"/><g clip-path="url(#c2)"><text transform="translate(209.29,754.6) scale(0.9113,1)" font-family="'Liberation Serif', 'Noto Sans CJK TC', serif" font-size="28.5" fill="#1ea2b4" stroke="#1ea2b4" stroke-width="0.45">RSI6(36.92)</text></g>
<g><text transform="translate(124.54,517.19) scale(1.1156,1)" font-family="'Liberation Sans', 'Noto Sans CJK TC', sans-serif" font-size="24.66" fill="#d0306f" stroke="#d0306f" stroke-width="0.0">成交量</text></g>
<g><text transform="translate(207.17,515.57) scale(0.9833,1)" font-family="'Liberation Serif', 'Noto Sans CJK TC', serif" font-size="27.12" fill="#d0306f" stroke="#d0306f" stroke-width="0.45">(</text></g>
<g><text transform="translate(214.98,517.03) scale(1.0648,1)" font-family="'Liberation Sans', 'Noto Sans CJK TC', sans-serif" font-size="26.39" fill="#d0306f" stroke="#d0306f" stroke-width="0.0">張</text></g>
<g><text transform="translate(242.7,515.57) scale(0.9440,1)" font-family="'Liberation Serif', 'Noto Sans CJK TC', serif" font-size="27.12" fill="#d0306f" stroke="#d0306f" stroke-width="0.45">)</text></g>
</svg></body></html>
